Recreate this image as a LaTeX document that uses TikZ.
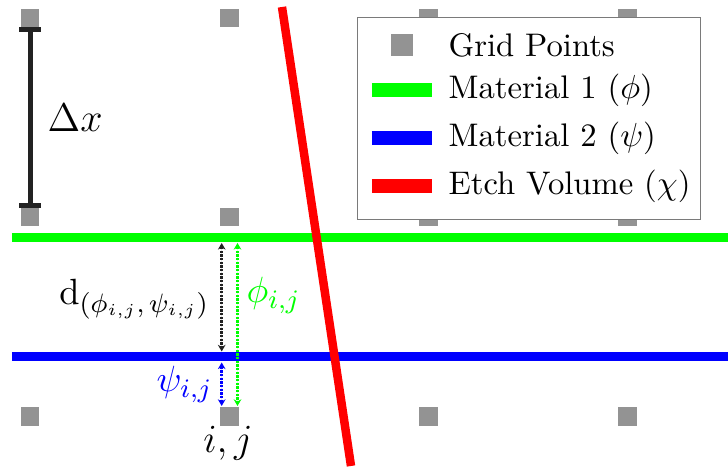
\documentclass[tikz,border=0pt]{standalone}
\usetikzlibrary{arrows.meta}
\definecolor{gridgray}{HTML}{939393}
\definecolor{barblack}{HTML}{222222}
\definecolor{mgreen}{HTML}{00FF00}
\definecolor{mblue}{HTML}{0000FF}
\definecolor{mred}{HTML}{FF0000}
\definecolor{legborder}{HTML}{7A7A7A}
\begin{document}
\begin{tikzpicture}[x=0.3pt,y=-0.3pt,
  gpt/.style={rectangle, fill=gridgray, draw=none, minimum size=5.55pt, inner sep=0pt},
  matline/.style={line width=2.7pt},
  etchline/.style={line width=2.55pt, draw=mred},
  swatch/.style={line width=4.2pt},
  darr/.style={line width=0.8pt, dash pattern=on 0.7pt off 0.4pt,
    {Stealth[length=2pt,width=2.3pt]}-{Stealth[length=2pt,width=2.3pt]}},
  dxbar/.style={draw=barblack, line width=1.5pt},
  legtext/.style={anchor=base west, inner sep=0pt, font=\fontsize{9.8}{12}\selectfont},
  lbl/.style={inner sep=0pt, font=\fontsize{11}{13}\selectfont},
]
\useasboundingbox (0,0) rectangle (728,470);

% grid points
\foreach \gx/\gi in {30/1,229.5/2,428.5/3,627.5/4}{
  \foreach \gy/\gj in {18/1,217/2,416.5/3}{
    \node[gpt] (g-\gi-\gj) at (\gx,\gy) {};
  }
}

% material lines
\coordinate (gl) at (12,237.5);
\coordinate (gr) at (728,237.5);
\coordinate (bl) at (12,357);
\coordinate (br) at (728,357);
\draw[matline, draw=mgreen] (gl) -- (gr);
\draw[matline, draw=mblue] (bl) -- (br);

% etch volume line
\coordinate (et) at (282,7);
\coordinate (eb) at (351,466);
\draw[etchline] (et) -- (eb);

% Delta x bar
\coordinate (dxt) at (30.5,29.5);
\coordinate (dxb) at (30.5,205.5);
\draw[dxbar] (dxt) -- (dxb);
\draw[dxbar] ([xshift=-3.3pt]dxt) -- ([xshift=3.3pt]dxt);
\draw[dxbar] ([xshift=-3.3pt]dxb) -- ([xshift=3.3pt]dxb);
\node[lbl, anchor=base west, font=\fontsize{11.5}{14}\selectfont] (dxl) at (47,132) {$\Delta x$};

% distance arrows
\coordinate (ka) at (221.7,243);
\coordinate (kb) at (221.7,351.5);
\coordinate (ba) at (221.7,362.5);
\coordinate (bb) at (221.7,406);
\coordinate (ga) at (237.5,243);
\coordinate (gb) at (237.5,406);
\draw[darr, draw=barblack, fill=barblack] (ka) -- (kb);
\draw[darr, draw=mblue, fill=mblue] (ba) -- (bb);
\draw[darr, draw=mgreen, fill=mgreen] (ga) -- (gb);

% labels
\node[lbl, anchor=base east] (dlab) at (210,305) {$\mathrm{d}_{(\phi_{i,j},\,\psi_{i,j})}$};
\node[lbl, anchor=base west, text=mgreen] (phil) at (246,303) {$\phi_{i,j}$};
\node[lbl, anchor=base west, text=mblue] (psil) at (156,392) {$\psi_{i,j}$};
\node[lbl, anchor=base, font=\fontsize{12.5}{15}\selectfont] (ijl) at (228,453) {$i,j$};

% legend
\node[rectangle, draw=legborder, fill=white, line width=0.4pt, inner sep=0pt,
  minimum width=102.9pt, minimum height=60.7pt, anchor=north west] (leg) at (357,16.7) {};
\node[rectangle, fill=gridgray, minimum size=6.6pt, inner sep=0pt] (lgp) at (402,45) {};
\coordinate (lg1) at (372,90);   \coordinate (lg2) at (432,90);
\coordinate (lb1) at (372,138);  \coordinate (lb2) at (432,138);
\coordinate (lr1) at (372,186.5);\coordinate (lr2) at (432,186.5);
\draw[swatch, draw=mgreen] (lg1) -- (lg2);
\draw[swatch, draw=mblue] (lb1) -- (lb2);
\draw[swatch, draw=mred] (lr1) -- (lr2);
\node[legtext] (t1) at (448,57) {Grid Points};
\node[legtext] (t2) at (448,99) {Material 1 ($\phi$)};
\node[legtext] (t3) at (448,147) {Material 2 ($\psi$)};
\node[legtext] (t4) at (448,195) {Etch Volume ($\chi$)};
\end{tikzpicture}
\end{document}
